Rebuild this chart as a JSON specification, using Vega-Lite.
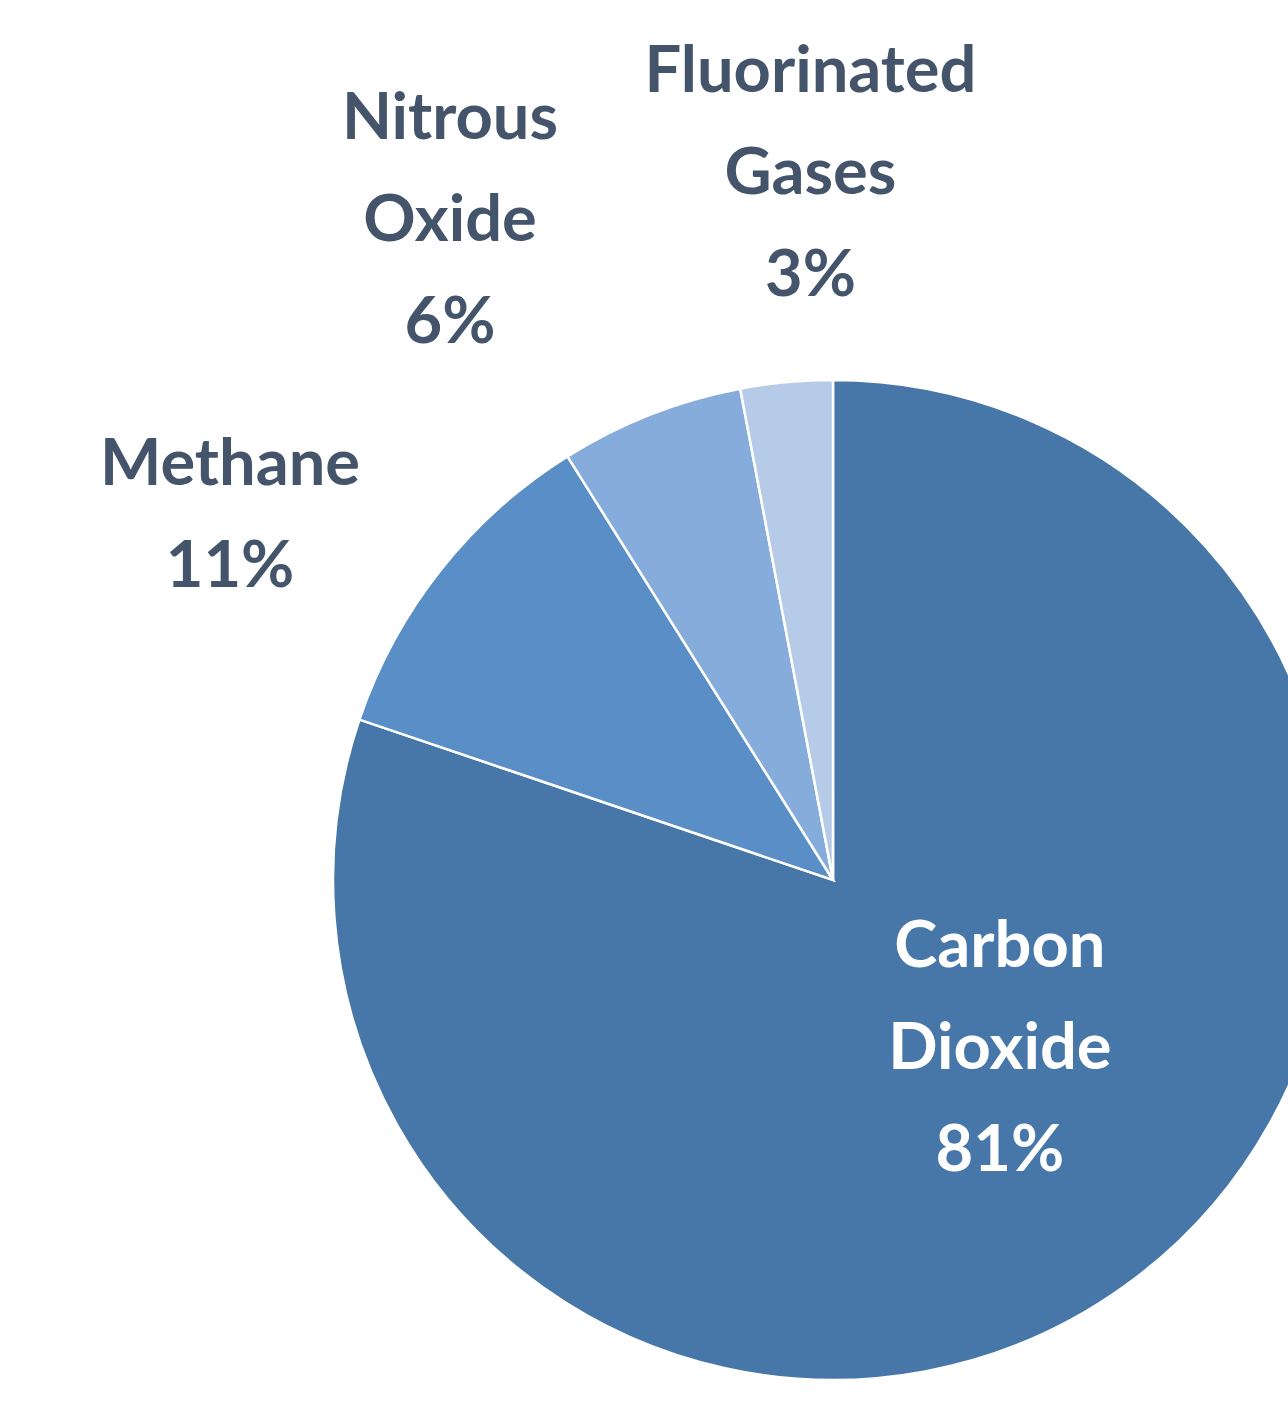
{
  "$schema": "https://vega.github.io/schema/vega-lite/v6.json",
  "autosize": {"type": "none"},
  "width": 910,
  "height": 1084,
  "padding": {"left": 378, "top": 338, "right": 0, "bottom": 0},
  "background": "white",
  "config": {"view": {"stroke": null}},
  "data": {
    "values": [
      {"gas": "Carbon Dioxide", "share": 81, "rank": 1, "label": "Carbon\nDioxide\n81%"},
      {"gas": "Methane", "share": 11, "rank": 2, "label": "Methane\n11%"},
      {"gas": "Nitrous Oxide", "share": 6, "rank": 3, "label": "Nitrous\nOxide\n6%"},
      {"gas": "Fluorinated Gases", "share": 3, "rank": 4, "label": "Fluorinated\nGases\n3%"}
    ]
  },
  "encoding": {
    "theta": {"field": "share", "type": "quantitative", "stack": true},
    "order": {"field": "rank", "type": "ordinal"}
  },
  "layer": [
    {
      "mark": {"type": "arc", "outerRadius": 500, "stroke": "white", "strokeWidth": 2.5},
      "encoding": {
        "color": {
          "field": "gas",
          "type": "nominal",
          "scale": {
            "domain": ["Carbon Dioxide", "Methane", "Nitrous Oxide", "Fluorinated Gases"],
            "range": ["#4677a8", "#5a8ec6", "#86acdb", "#b6cbe8"]
          },
          "legend": null
        }
      }
    },
    {
      "mark": {"type": "text", "radius": 240, "dx": 27, "dy": -128, "font": "Lato", "fontWeight": "bold", "fontSize": 65, "lineHeight": 102, "lineBreak": "\n", "align": "center", "baseline": "middle", "fill": "white"},
      "encoding": {
        "text": {"condition": {"test": "datum.gas === 'Carbon Dioxide'", "field": "label"}, "value": ""}
      }
    },
    {
      "mark": {"type": "text", "radius": 650, "dx": -93, "dy": -12, "font": "Lato", "fontWeight": "bold", "fontSize": 65, "lineHeight": 102, "lineBreak": "\n", "align": "center", "baseline": "middle", "fill": "#44546a"},
      "encoding": {
        "text": {"condition": {"test": "datum.gas === 'Methane'", "field": "label"}, "value": ""}
      }
    },
    {
      "mark": {"type": "text", "radius": 650, "dx": -146, "dy": -156, "font": "Lato", "fontWeight": "bold", "fontSize": 65, "lineHeight": 102, "lineBreak": "\n", "align": "center", "baseline": "middle", "fill": "#44546a"},
      "encoding": {
        "text": {"condition": {"test": "datum.gas === 'Nitrous Oxide'", "field": "label"}, "value": ""}
      }
    },
    {
      "mark": {"type": "text", "radius": 650, "dx": 38, "dy": -161, "font": "Lato", "fontWeight": "bold", "fontSize": 65, "lineHeight": 102, "lineBreak": "\n", "align": "center", "baseline": "middle", "fill": "#44546a"},
      "encoding": {
        "text": {"condition": {"test": "datum.gas === 'Fluorinated Gases'", "field": "label"}, "value": ""}
      }
    }
  ]
}
